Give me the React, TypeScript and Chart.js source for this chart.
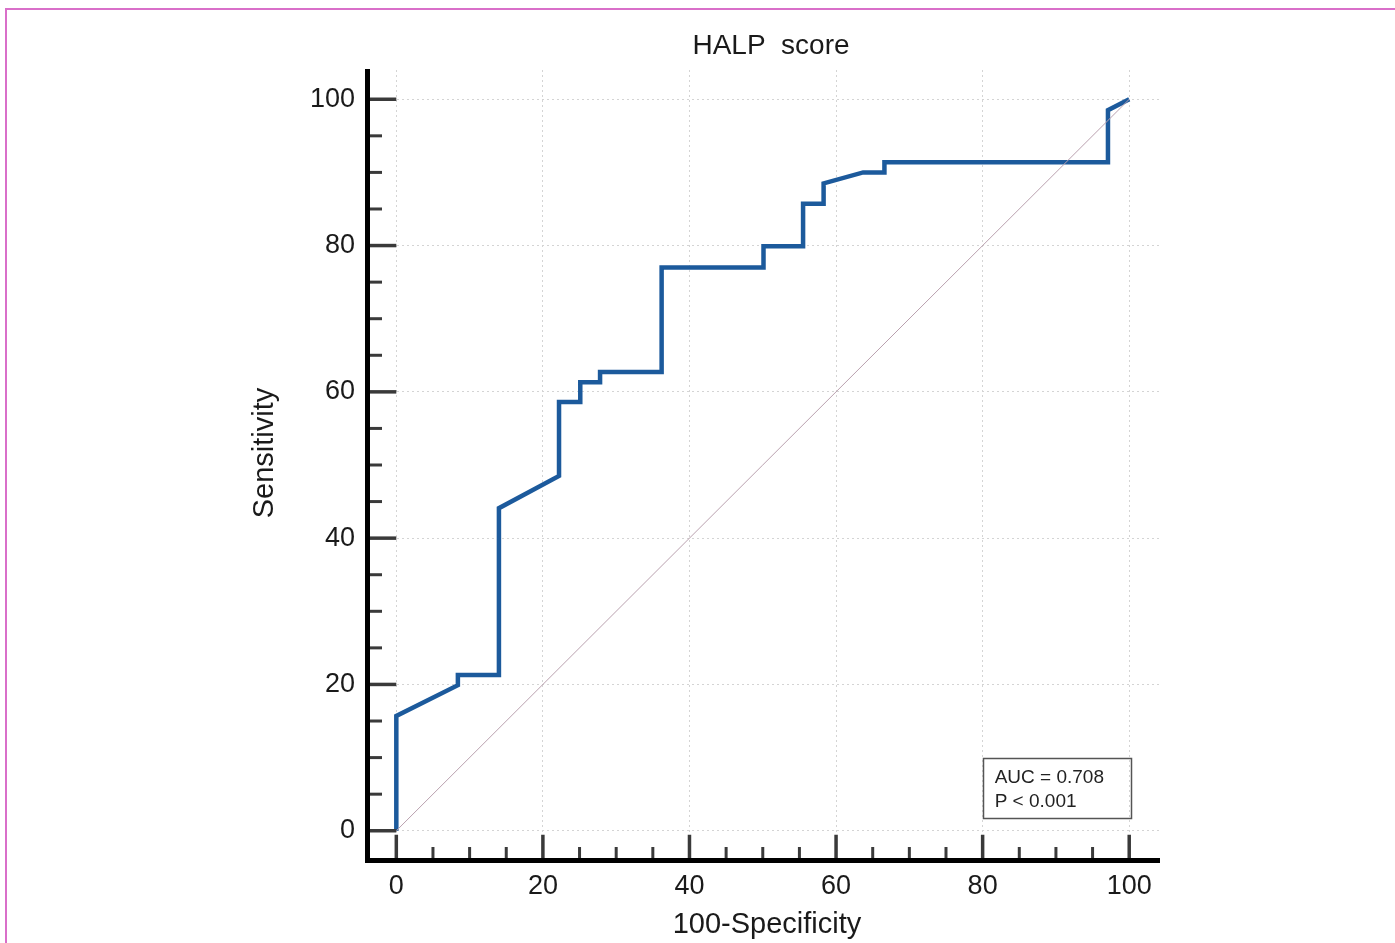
import React, { useEffect, useRef } from "react";
import { Chart, registerables } from "chart.js";

Chart.register(...registerables);

// ROC curve (100-Specificity, Sensitivity)
const rocX = [0, 0, 8.4, 8.4, 14.0, 14.0, 22.2, 22.2, 25.1, 25.1, 27.8, 27.8, 36.2, 36.2, 50.1, 50.1, 55.5, 55.5, 58.3, 58.3, 63.7, 66.6, 66.6, 97.1, 97.1, 100];
const rocY = [0, 15.7, 19.9, 21.3, 21.3, 44.1, 48.5, 58.6, 58.6, 61.3, 61.3, 62.7, 62.7, 77.0, 77.0, 79.9, 79.9, 85.7, 85.7, 88.5, 90.0, 90.0, 91.4, 91.4, 98.5, 100];
const diagX = [0, 100];
const diagY = [0, 100];

const majorTicks = [0, 20, 40, 60, 80, 100];
const minorTicks = [5, 10, 15, 25, 30, 35, 45, 50, 55, 65, 70, 75, 85, 90, 95];

const titleText = "HALP  score";
const xTitle = "100-Specificity";
const yTitle = "Sensitivity";
const boxLines = ["AUC = 0.708", "P < 0.001"];

const FONT = '"Liberation Sans", Arial, sans-serif';

export default function App() {
  const ref = useRef<HTMLCanvasElement | null>(null);

  useEffect(() => {
    const canvas = ref.current;
    if (!canvas) return;

    const axesPlugin = {
      id: "rocAxes",
      afterDraw(chart: any) {
        const ctx = chart.ctx;
        const xs = chart.scales.x;
        const ys = chart.scales.y;
        const area = chart.chartArea;
        ctx.save();
        // tick marks
        ctx.strokeStyle = "#3a3a3a";
        ctx.lineWidth = 3.5;
        ctx.lineCap = "butt";
        const y0 = ys.getPixelForValue(0);
        const x0 = xs.getPixelForValue(0);
        for (const v of majorTicks) {
          const py = ys.getPixelForValue(v);
          ctx.beginPath();
          ctx.moveTo(area.left, py);
          ctx.lineTo(x0, py);
          ctx.stroke();
          const px = xs.getPixelForValue(v);
          ctx.beginPath();
          ctx.moveTo(px, area.bottom);
          ctx.lineTo(px, y0 + 4);
          ctx.stroke();
        }
        ctx.lineWidth = 3;
        for (const v of minorTicks) {
          const py = ys.getPixelForValue(v);
          ctx.beginPath();
          ctx.moveTo(area.left, py);
          ctx.lineTo(area.left + 15, py);
          ctx.stroke();
          const px = xs.getPixelForValue(v);
          ctx.beginPath();
          ctx.moveTo(px, area.bottom);
          ctx.lineTo(px, area.bottom - 13);
          ctx.stroke();
        }
        // axis lines
        ctx.strokeStyle = "#000";
        ctx.lineWidth = 5;
        ctx.beginPath();
        ctx.moveTo(area.left + 0.5, area.top - 1);
        ctx.lineTo(area.left + 0.5, area.bottom + 0.5);
        ctx.lineTo(area.right, area.bottom + 0.5);
        ctx.stroke();

        // titles
        ctx.fillStyle = "#1a1a1a";
        ctx.textAlign = "center";
        ctx.textBaseline = "middle";
        ctx.font = `28px ${FONT}`;
        ctx.fillText(titleText, 771, 46);
        ctx.font = `29px ${FONT}`;
        ctx.fillText(xTitle, 767, 925);
        ctx.save();
        ctx.translate(265, 453);
        ctx.rotate(-Math.PI / 2);
        ctx.fillText(yTitle, 0, 0);
        ctx.restore();

        // AUC box
        const bx = xs.getPixelForValue(80);
        const by = ys.getPixelForValue(10);
        ctx.strokeStyle = "#555";
        ctx.lineWidth = 1.5;
        ctx.strokeRect(Math.round(bx) + 0.5, Math.round(by) + 0.5, 148, 60);
        ctx.font = `19px ${FONT}`;
        ctx.textAlign = "left";
        ctx.textBaseline = "alphabetic";
        ctx.fillStyle = "#222";
        ctx.fillText(boxLines[0], bx + 12, by + 25);
        ctx.fillText(boxLines[1], bx + 12, by + 49);
        ctx.restore();
      },
    };

    const chart = new Chart(canvas, {
      type: "scatter",
      data: {
        datasets: [
          {
            data: diagX.map((x, i) => ({ x, y: diagY[i] })),
            showLine: true,
            borderColor: "#b9a0ae",
            borderWidth: 1,
            pointRadius: 0,
          },
          {
            data: rocX.map((x, i) => ({ x, y: rocY[i] })),
            showLine: true,
            borderColor: "#1c5a9c",
            borderWidth: 4.5,
            pointRadius: 0,
            tension: 0,
            borderJoinStyle: "miter",
          },
        ],
      },
      options: {
        animation: false,
        responsive: false,
        layout: { padding: { left: 0, right: 235, top: 70, bottom: 0 } },
        plugins: {
          legend: { display: false },
          tooltip: { enabled: false },
          title: { display: false },
        },
        scales: {
          x: {
            type: "linear",
            min: -4,
            max: 104.2,
            afterBuildTicks: (s: any) => {
              s.ticks = majorTicks.map((v) => ({ value: v }));
            },
            afterFit: (s: any) => {
              s.height = 83;
            },
            grid: { color: "#d4d4d4", lineWidth: 1, drawTicks: false },
            border: { display: false, dash: [2, 3] },
            ticks: {
              padding: 10,
              color: "#1a1a1a",
              font: { family: FONT, size: 27 },
              maxRotation: 0,
            },
          },
          y: {
            type: "linear",
            min: -4,
            max: 104,
            afterBuildTicks: (s: any) => {
              s.ticks = majorTicks.map((v) => ({ value: v }));
            },
            afterFit: (s: any) => {
              s.width = 367;
            },
            grid: { color: "#d4d4d4", lineWidth: 1, drawTicks: false },
            border: { display: false, dash: [2, 3] },
            ticks: {
              padding: 12,
              color: "#1a1a1a",
              font: { family: FONT, size: 27 },
            },
          },
        },
      },
      plugins: [axesPlugin],
    } as any);

    return () => chart.destroy();
  }, []);

  return (
    <div style={{ position: "absolute", left: 0, top: 0, width: 1395, height: 943, background: "#fff", overflow: "hidden" }}>
      <div
        style={{
          position: "absolute",
          left: 5,
          top: 8,
          right: 0,
          bottom: -10,
          borderTop: "2px solid #d96fc9",
          borderLeft: "2px solid #d96fc9",
        }}
      />
      <canvas ref={ref} width={1395} height={943} style={{ position: "absolute", left: 0, top: 0 }} />
    </div>
  );
}
